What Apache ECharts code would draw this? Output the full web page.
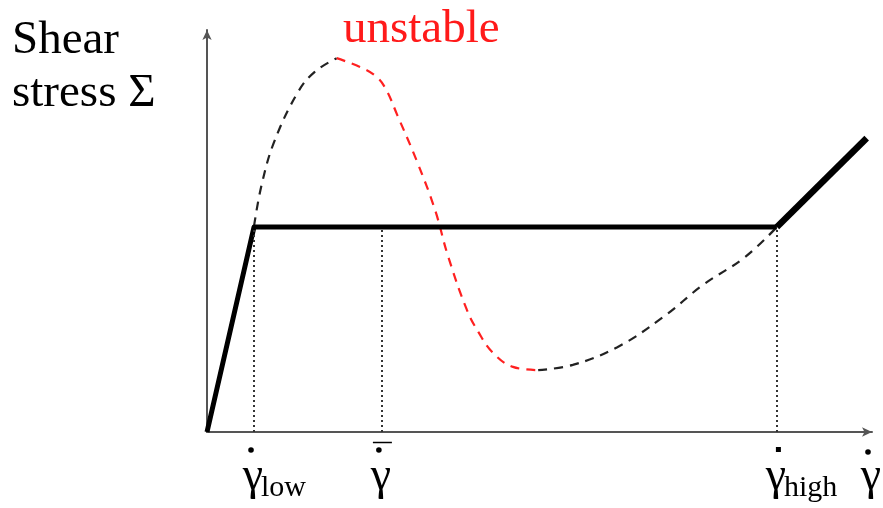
<!DOCTYPE html>
<html>
<head>
<meta charset="utf-8">
<script src="https://cdn.jsdelivr.net/npm/echarts@6/dist/echarts.min.js"></script>
<style>
  html, body { margin: 0; padding: 0; background: #fff; }
  #chart { width: 883px; height: 508px; }
</style>
</head>
<body>
<div id="chart"></div>
<script>
// Flow curve of a shear-banding fluid: stress vs. shear rate (arbitrary units).
// Rising (stable) low-rate branch of the constitutive curve
const lowBranch = [
  [7.07, 51.2], [8.27, 61.9], [10.2, 72.6], [13.7, 84.6], [16.2, 89.6], [19.5, 93.0]
];
// Decreasing (unstable) part of the constitutive curve
const unstableBranch = [
  [19.5, 93.0], [23.0, 90.8], [25.3, 88.6], [26.8, 85.6], [28.6, 78.9],
  [31.6, 67.2], [34.3, 55.2], [36.2, 44.0], [39.1, 30.3], [40.8, 24.9],
  [43.0, 19.7], [46.0, 16.2], [49.8, 15.4]
];
// Rising high-rate branch of the constitutive curve
const highBranchCurve = [
  [49.8, 15.4], [55.0, 16.7], [61.7, 21.1], [68.6, 28.6], [74.6, 36.6],
  [80.9, 43.5], [85.7, 51.0]
];
// Measured flow curve with the stress plateau
const plateauPath = [[0, 0], [7.07, 51.0], [85.7, 51.0]];
const highRatePath = [[85.7, 51.0], [99.2, 73.1]];

// Characteristic shear rates and the plateau stress
const rateValues = [7.07, 26.3, 85.7];
const rateSubs = ['low', '', 'high'];
const rateMarks = ['dot', 'bar', 'square'];
const plateauStress = 51.0;

const axisTitleY = 'Shear\nstress Σ';
const unstableText = 'unstable';
const axisTitleX = 'γ';

const SERIF = '"Liberation Serif", "Times New Roman", serif';
const chart = echarts.init(document.getElementById('chart'), null, { renderer: 'canvas' });

const dashed = (data, color) => ({
  type: 'line', data, smooth: 0.4, symbol: 'none', silent: true,
  lineStyle: { color, width: 2.2, type: [9, 7] }, z: 2
});

chart.setOption({
  animation: false,
  backgroundColor: '#fff',
  grid: { left: 207, right: 11, top: 30, bottom: 76 },
  xAxis: {
    type: 'value', min: 0, max: 100,
    axisLine: { lineStyle: { color: '#555', width: 2 }, symbol: ['none', 'arrow'], symbolSize: [7, 10] },
    axisTick: { show: false }, axisLabel: { show: false }, splitLine: { show: false }
  },
  yAxis: {
    type: 'value', min: 0, max: 100,
    axisLine: { lineStyle: { color: '#555', width: 2 }, symbol: ['none', 'arrow'], symbolSize: [7, 10] },
    axisTick: { show: false }, axisLabel: { show: false }, splitLine: { show: false }
  },
  series: [
    dashed(lowBranch, '#222'),
    dashed(unstableBranch, '#ff2020'),
    dashed(highBranchCurve, '#222'),
    {
      type: 'line', data: plateauPath, symbol: 'none', silent: true, z: 3,
      lineStyle: { color: '#000', width: 5, join: 'round' },
      markLine: {
        silent: true, symbol: 'none', label: { show: false },
        lineStyle: { color: '#333', width: 2, type: [2, 3] },
        data: rateValues.map(v => [{ coord: [v, 0] }, { coord: [v, plateauStress] }])
      }
    },
    {
      type: 'line', data: highRatePath, symbol: 'none', silent: true, z: 3,
      lineStyle: { color: '#000', width: 6.5 }
    }
  ]
});

// Shear-rate labels placed below the x axis at their data positions
function rateLabels() {
  const els = [];
  const base = chart.convertToPixel({ gridIndex: 0 }, [0, 0]);
  const axisY = base[1];
  const gammaStyle = { fontFamily: SERIF, fontSize: 46, fill: '#000', align: 'center', verticalAlign: 'bottom' };
  rateValues.forEach((v, i) => {
    const px = chart.convertToPixel({ gridIndex: 0 }, [v, 0])[0];
    els.push({ type: 'text', x: px - 1, y: axisY + 68, style: Object.assign({ text: 'γ' }, gammaStyle) });
    if (rateMarks[i] === 'square') {
      els.push({ type: 'rect', shape: { x: px - 1, y: axisY + 15, width: 5, height: 5 }, style: { fill: '#000' } });
    } else {
      els.push({ type: 'circle', shape: { cx: px - 3, cy: axisY + 18, r: 2.8 }, style: { fill: '#000' } });
    }
    if (rateMarks[i] === 'bar') {
      els.push({ type: 'line', shape: { x1: px - 9, y1: axisY + 10.5, x2: px + 10, y2: axisY + 10.5 }, style: { stroke: '#000', lineWidth: 1.5 } });
    }
    if (rateSubs[i]) {
      els.push({ type: 'text', x: px + 7, y: axisY + 71, style: { text: rateSubs[i], fontFamily: SERIF, fontSize: 30, fill: '#000', align: 'left', verticalAlign: 'bottom' } });
    }
  });
  // axis title at the end of the rate axis
  const endX = chart.convertToPixel({ gridIndex: 0 }, [100, 0])[0];
  els.push({ type: 'text', x: endX - 1, y: axisY + 68, style: Object.assign({ text: axisTitleX }, gammaStyle) });
  els.push({ type: 'circle', shape: { cx: endX - 4, cy: axisY + 20, r: 2.8 }, style: { fill: '#000' } });

  els.push({ type: 'text', x: 12, y: 14, style: { text: axisTitleY, fontFamily: SERIF, fontSize: 47, lineHeight: 53, fill: '#000', align: 'left', verticalAlign: 'top' } });
  els.push({ type: 'text', x: 343, y: 6, style: { text: unstableText, fontFamily: SERIF, fontSize: 47, fill: '#ff1a1a', align: 'left', verticalAlign: 'top' } });
  return els;
}

chart.setOption({ graphic: { elements: rateLabels() } });
</script>
</body>
</html>
